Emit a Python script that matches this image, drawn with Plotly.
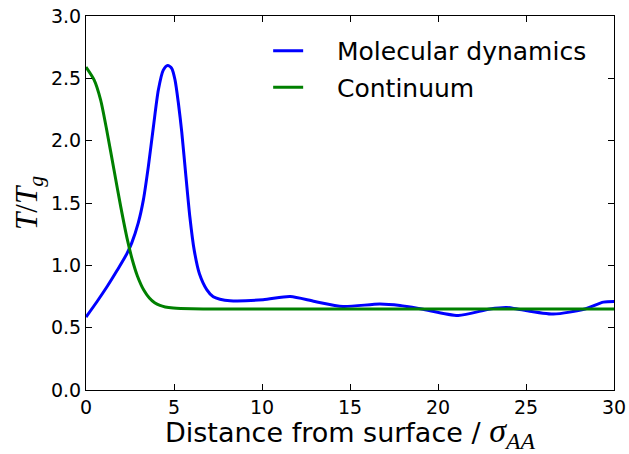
import plotly.graph_objects as go

# Molecular dynamics profile
md_x = [0, 0.64, 1.21, 1.78, 2.31, 2.6, 2.97, 3.26, 3.54, 3.83, 4.11, 4.39, 4.64,
        4.87, 5.06, 5.25, 5.44, 5.68, 5.9, 6.15, 6.45, 6.86, 7.23, 7.61, 8.18, 10.06,
        11.6, 13.0, 14.6, 16.7, 17.84, 19.07, 21.15, 22.95, 23.9, 24.5, 26.55,
        28.35, 29.4, 30]
md_y = [0.585, 0.712, 0.832, 0.962, 1.09, 1.18, 1.34, 1.525, 1.79, 2.112, 2.406, 2.566, 2.603,
        2.58, 2.486, 2.3, 2.07, 1.71, 1.39, 1.12, 0.93, 0.805, 0.747, 0.728, 0.716, 0.724,
        0.75, 0.71, 0.67, 0.69, 0.678, 0.65, 0.598, 0.65, 0.662, 0.65, 0.609,
        0.65, 0.705, 0.71]

# Continuum profile
cont_x = [0, 0.46, 0.83, 1.21, 1.59, 1.97, 2.35, 2.63, 2.92, 3.29, 3.6, 3.9,
          4.2, 4.5, 4.96, 6.0, 8.0, 30]
cont_y = [2.59, 2.487, 2.327, 2.06, 1.766, 1.473, 1.206, 1.045, 0.915, 0.80, 0.738, 0.70,
          0.678, 0.666, 0.658, 0.652, 0.65, 0.65]

x_ticks = [0, 5, 10, 15, 20, 25, 30]
y_ticks = [0.0, 0.5, 1.0, 1.5, 2.0, 2.5, 3.0]

fig = go.Figure()
fig.add_trace(go.Scatter(x=md_x, y=md_y, mode="lines",
                         name="\u00a0\u00a0\u00a0\u2009Molecular dynamics",
                         legendgroup="a",
                         line=dict(color="#0000ff", width=3, shape="spline", smoothing=0.7)))
fig.add_trace(go.Scatter(x=cont_x, y=cont_y, mode="lines",
                         name="\u00a0\u00a0\u00a0\u2009Continuum",
                         legendgroup="b",
                         line=dict(color="#008000", width=3, shape="spline", smoothing=0.7)))

axis_common = dict(showline=True, linecolor="black", linewidth=1, mirror="ticks",
                   ticks="inside", ticklen=6, tickcolor="black", tickwidth=1,
                   showgrid=False, zeroline=False, automargin=False,
                   tickfont=dict(family="DejaVu Sans", size=19, color="black"))

fig.update_xaxes(range=[0, 30], tickvals=x_ticks, ticktext=[str(v) for v in x_ticks],
                 title=dict(text='Distance from surface / <span style="font-family:Liberation Serif;font-size:34px"><i>σ</i><sub><i>AA</i></sub></span>',
                            font=dict(family="DejaVu Sans", size=27, color="black"), standoff=0),
                 **axis_common)
fig.update_yaxes(range=[0, 3], tickvals=y_ticks, ticktext=[f"{v:.1f}" for v in y_ticks],
                 title=dict(text="<i>T</i>/<i>T</i><sub><i>g</i></sub>",
                            font=dict(family="Liberation Serif", size=31, color="black"), standoff=4),
                 **axis_common)

fig.update_layout(
    width=629, height=454,
    margin=dict(l=86, r=15, t=16, b=64, autoexpand=False),
    paper_bgcolor="white", plot_bgcolor="white",
    showlegend=True,
    legend=dict(x=0.345, y=0.968, xanchor="left", yanchor="top",
                bgcolor="rgba(0,0,0,0)", borderwidth=0, tracegroupgap=1,
                font=dict(family="DejaVu Sans", size=25, color="black")),
)

fig.write_html("out.html")
